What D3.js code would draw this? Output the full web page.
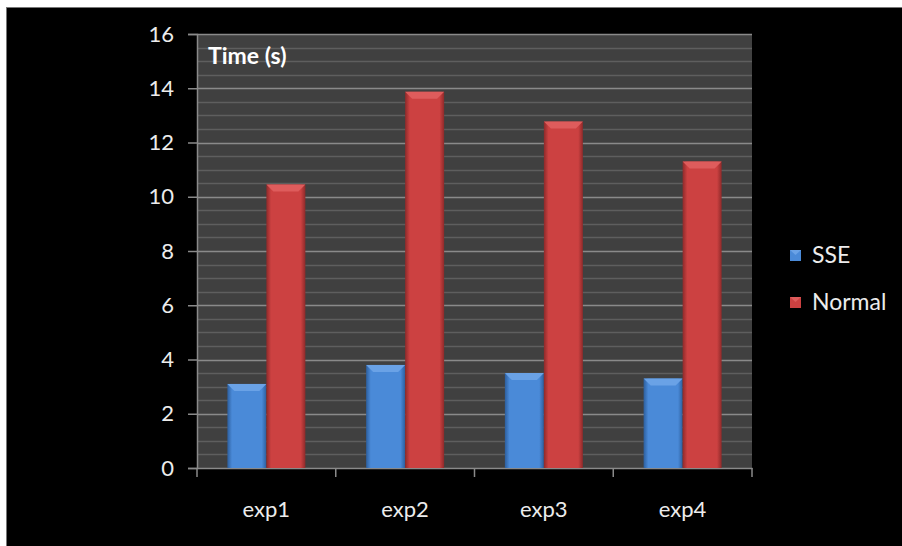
<!DOCTYPE html>
<html><head><meta charset="utf-8">
<script src="https://cdn.jsdelivr.net/npm/d3@7"></script>
<style>html,body{margin:0;padding:0;background:#fff;}svg{display:block;}</style>
</head><body>
<svg id="c" width="902" height="546"></svg>
<script>
const categories = ["exp1", "exp2", "exp3", "exp4"];
const seriesNames = ["SSE", "Normal"];
const sseValues = [3.1, 3.8, 3.5, 3.3];
const normalValues = [10.45, 13.87, 12.77, 11.3];
const yTicks = [0, 2, 4, 6, 8, 10, 12, 14, 16];
const seriesColors = {SSE: ["#2d5f9e", "#4a8ad8", "#6aa2e6"], Normal: ["#8e2a2a", "#cc4141", "#de5c5c"]};

const svg = d3.select("#c");
const font = "Lato, 'Open Sans', sans-serif";
svg.append("rect").attr("x", 6).attr("y", 7).attr("width", 896).attr("height", 539).attr("fill", "#000");
svg.append("line").attr("x1", 6.5).attr("x2", 6.5).attr("y1", 7).attr("y2", 546).attr("stroke", "#777");
svg.append("line").attr("x1", 6).attr("x2", 902).attr("y1", 7.5).attr("y2", 7.5).attr("stroke", "#777");

const L = 197, R = 752, T = 34, B = 468;
const y = d3.scaleLinear().domain([0, 16]).range([B, T]);
const x0 = d3.scaleBand().domain(categories).range([L, R]).paddingInner(0).paddingOuter(0);
const groupW = 78;
const x1 = d3.scaleBand().domain(seriesNames).range([0, groupW]).padding(0);

const defs = svg.append("defs");
seriesNames.forEach(s => {
  const g = defs.append("linearGradient").attr("id", "g" + s).attr("x1", "0").attr("x2", "1").attr("y1", "0").attr("y2", "0");
  const c = seriesColors[s];
  g.append("stop").attr("offset", "0").attr("stop-color", c[0]);
  g.append("stop").attr("offset", "0.12").attr("stop-color", c[1]);
  g.append("stop").attr("offset", "0.88").attr("stop-color", c[1]);
  g.append("stop").attr("offset", "1").attr("stop-color", c[0]);
});

// plot background
svg.append("rect").attr("x", L).attr("y", T).attr("width", R - L).attr("height", B - T).attr("fill", "#404040");
// minor grid
const minor = d3.range(0.5, 16, 0.5).filter(v => v % 2 !== 0);
svg.append("g").selectAll("line").data(minor).join("line")
  .attr("x1", L).attr("x2", R).attr("y1", d => Math.round(y(d)) + 0.5).attr("y2", d => Math.round(y(d)) + 0.5)
  .attr("stroke", "#5e5e5e").attr("stroke-width", 1.5);
// major grid
svg.append("g").selectAll("line").data(yTicks.filter(v => v > 0)).join("line")
  .attr("x1", L).attr("x2", R).attr("y1", d => Math.round(y(d)) + 0.5).attr("y2", d => Math.round(y(d)) + 0.5)
  .attr("stroke", "#8a8a8a").attr("stroke-width", 1.5);

// y axis
const yAxis = svg.append("g").attr("transform", `translate(${L},0)`)
  .call(d3.axisLeft(y).tickValues(yTicks).tickSize(9).tickPadding(14).tickFormat(d3.format("d")));
yAxis.select(".domain").attr("stroke", "#8a8a8a").attr("stroke-width", 1.5);
yAxis.selectAll(".tick line").attr("stroke", "#8a8a8a").attr("stroke-width", 1.5);
yAxis.selectAll("text").attr("fill", "#ececec").attr("font-size", 22).attr("font-family", font);

// x axis
const xAxis = svg.append("g").attr("transform", `translate(0,${B})`)
  .call(d3.axisBottom(x0).tickSize(0).tickPadding(33));
xAxis.select(".domain").attr("stroke", "#8a8a8a").attr("stroke-width", 1.5);
xAxis.selectAll("text").attr("fill", "#ececec").attr("font-size", 22).attr("font-family", font);
const bounds = categories.map(c => x0(c)).concat([R]);
xAxis.append("g").selectAll("line").data(bounds).join("line")
  .attr("x1", d => d).attr("x2", d => d).attr("y1", 0).attr("y2", 9).attr("stroke", "#8a8a8a").attr("stroke-width", 1.5);

// bars
const rows = categories.map((c, i) => ({cat: c, SSE: sseValues[i], Normal: normalValues[i]}));
const groups = svg.append("g").selectAll("g").data(rows).join("g")
  .attr("transform", d => `translate(${x0(d.cat) + (x0.bandwidth() - groupW) / 2},0)`);
seriesNames.forEach(s => {
  const bw = x1.bandwidth();
  groups.append("rect")
    .attr("x", x1(s)).attr("y", d => y(d[s])).attr("width", bw).attr("height", d => B - y(d[s]))
    .attr("fill", `url(#g${s})`);
  // top bevel
  groups.append("path")
    .attr("d", d => {
      const xx = x1(s), yy = y(d[s]), bv = 7;
      return `M${xx},${yy}L${xx + bw},${yy}L${xx + bw - bv},${yy + bv}L${xx + bv},${yy + bv}Z`;
    })
    .attr("fill", seriesColors[s][2]);
});

// title
svg.append("text").attr("x", 208).attr("y", 64).text("Time (s)")
  .attr("fill", "#fff").attr("font-weight", "bold").attr("font-size", 23).attr("font-family", font);

// legend
const leg = svg.append("g").selectAll("g").data(seriesNames).join("g")
  .attr("transform", (d, i) => `translate(790,${250 + i * 47})`);
leg.append("rect").attr("width", 11).attr("height", 11).attr("fill", d => seriesColors[d][1]);
leg.append("path").attr("d", "M0,0L11,0L5.5,5Z").attr("fill", d => seriesColors[d][2]);
leg.append("text").attr("x", 22).attr("y", 13).text(d => d)
  .attr("fill", "#ececec").attr("font-size", 23).attr("font-family", font);
</script>
</body></html>
